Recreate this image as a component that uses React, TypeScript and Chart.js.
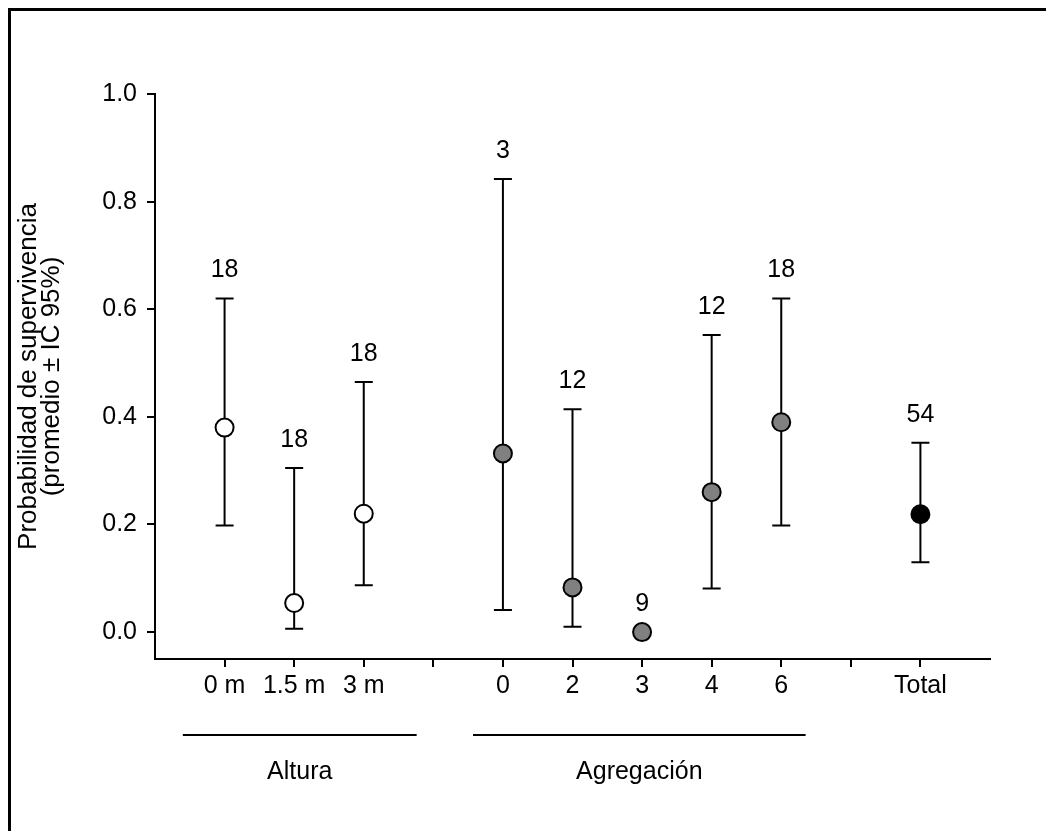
import React, { useEffect, useRef } from "react";
import { Chart, registerables } from "chart.js";

Chart.register(...registerables);

// Category slots along the x axis (empty strings are the gaps between groups)
const categories = ["0 m", "1.5 m", "3 m", "", "0", "2", "3", "4", "6", "", "Total"];

// Altura
const alturaSlots = ["0 m", "1.5 m", "3 m"];
const alturaMean = [0.38, 0.054, 0.22];
const alturaLower = [0.198, 0.006, 0.087];
const alturaUpper = [0.62, 0.305, 0.465];
const alturaN = [18, 18, 18];

// Agregación
const agregSlots = ["0", "2", "3", "4", "6"];
const agregMean = [0.332, 0.083, 0.0, 0.26, 0.39];
const agregLower = [0.041, 0.01, 0.0, 0.081, 0.198];
const agregUpper = [0.842, 0.414, 0.0, 0.552, 0.62];
const agregN = [3, 12, 9, 12, 18];

// Total
const totalSlots = ["Total"];
const totalMean = [0.219];
const totalLower = [0.13];
const totalUpper = [0.352];
const totalN = [54];

const yTicks = [0, 0.2, 0.4, 0.6, 0.8, 1.0];

const groupNames = ["Altura", "Agregación"];
const groupSpans = [
  [0.4, 3.76],
  [4.57, 9.35],
];

const FONT = "'Liberation Sans', Arial, Helvetica, sans-serif";
const FS = 25;

function mkData(xs: number[], means: number[], lower: number[], upper: number[], n: number[]) {
  return xs.map((x, i) => ({ x, y: means[i], lo: lower[i], hi: upper[i], n: n[i] }));
}

const errorPlugin = {
  id: "errorBars",
  beforeDatasetsDraw(chart: any) {
    const { ctx, scales } = chart;
    const ys = scales.y;
    const xs = scales.x;
    ctx.save();
    ctx.strokeStyle = "#000";
    ctx.lineWidth = 2;
    chart.data.datasets.forEach((ds: any) => {
      ds.data.forEach((p: any) => {
        if (p.hi === p.lo) return;
        const px = xs.getPixelForValue(p.x);
        const yh = ys.getPixelForValue(p.hi);
        const yl = ys.getPixelForValue(p.lo);
        ctx.beginPath();
        ctx.moveTo(px, yh);
        ctx.lineTo(px, yl);
        ctx.moveTo(px - 9, yh);
        ctx.lineTo(px + 9, yh);
        ctx.moveTo(px - 9, yl);
        ctx.lineTo(px + 9, yl);
        ctx.stroke();
      });
    });
    ctx.restore();
  },
  afterDatasetsDraw(chart: any) {
    const { ctx, scales } = chart;
    const ys = scales.y;
    const xs = scales.x;
    ctx.save();
    ctx.fillStyle = "#000";
    ctx.font = `${FS}px ${FONT}`;
    ctx.textAlign = "center";
    ctx.textBaseline = "middle";
    chart.data.datasets.forEach((ds: any) => {
      ds.data.forEach((p: any) => {
        const px = xs.getPixelForValue(p.x);
        const yh = ys.getPixelForValue(p.hi);
        ctx.fillText(String(p.n), px, yh - 28);
      });
    });
    ctx.restore();
  },
  afterDraw(chart: any) {
    const { ctx, scales } = chart;
    const xs = scales.x;
    ctx.save();
    ctx.strokeStyle = "#000";
    ctx.lineWidth = 2;
    ctx.fillStyle = "#000";
    ctx.font = `${FS}px ${FONT}`;
    ctx.textAlign = "center";
    ctx.textBaseline = "middle";
    groupSpans.forEach((s, i) => {
      const a = xs.getPixelForValue(s[0]);
      const b = xs.getPixelForValue(s[1]);
      ctx.beginPath();
      ctx.moveTo(a, 727);
      ctx.lineTo(b, 727);
      ctx.stroke();
      ctx.fillText(groupNames[i], (a + b) / 2, 764);
    });
    ctx.restore();
  },
};

export default function App() {
  const ref = useRef<HTMLCanvasElement>(null);
  useEffect(() => {
    const canvas = ref.current!;
    const idx = (label: string, after = 0) => categories.indexOf(label, after) + 1;
    const alturaX = alturaSlots.map((l) => idx(l));
    const agregX = agregSlots.map((l) => idx(l, 4));
    const totalX = totalSlots.map((l) => idx(l));
    const pointStyle = { pointRadius: 9, pointBorderWidth: 2, pointBorderColor: "#000", showLine: false };
    const chart = new Chart(canvas, {
      type: "scatter",
      data: {
        datasets: [
          { label: "Altura", data: mkData(alturaX, alturaMean, alturaLower, alturaUpper, alturaN), pointBackgroundColor: "#ffffff", ...pointStyle } as any,
          { label: "Agregación", data: mkData(agregX, agregMean, agregLower, agregUpper, agregN), pointBackgroundColor: "#808080", ...pointStyle } as any,
          { label: "Total", data: mkData(totalX, totalMean, totalLower, totalUpper, totalN), pointBackgroundColor: "#000000", ...pointStyle } as any,
        ],
      },
      options: {
        animation: false,
        responsive: false,
        maintainAspectRatio: false,
        layout: { padding: { top: 86, right: 64, left: 0, bottom: 0 } },
        plugins: { legend: { display: false }, tooltip: { enabled: false } },
        scales: {
          x: {
            type: "linear",
            min: 0,
            max: 12,
            afterBuildTicks: (s: any) => {
              s.ticks = categories.map((_, i) => ({ value: i + 1 }));
            },
            afterFit: (s: any) => {
              s.height = 172;
            },
            grid: { display: true, drawOnChartArea: false, drawTicks: true, tickLength: 8, color: "#000", lineWidth: 2 },
            border: { display: true, color: "#000", width: 2 },
            ticks: {
              callback: (v: any) => categories[Math.round(v) - 1] ?? "",
              color: "#000",
              font: { family: FONT, size: FS, lineHeight: 1.2 },
              padding: 4,
              autoSkip: false,
              maxRotation: 0,
            },
          },
          y: {
            min: -0.05,
            max: 1.0,
            afterBuildTicks: (s: any) => {
              s.ticks = yTicks.map((v) => ({ value: v }));
            },
            afterFit: (s: any) => {
              s.width = 147;
            },
            grid: { display: true, drawOnChartArea: false, drawTicks: true, tickLength: 8, color: "#000", lineWidth: 2 },
            border: { display: true, color: "#000", width: 2 },
            ticks: {
              callback: (v: any) => Number(v).toFixed(1),
              color: "#000",
              font: { family: FONT, size: FS },
              padding: 10,
            },
            title: {
              display: true,
              text: ["Probabilidad de supervivencia", "(promedio ± IC 95%)"],
              color: "#000",
              font: { family: FONT, size: 26, lineHeight: 0.9 },
              padding: { top: 9, bottom: 0 },
            },
          },
        },
      },
      plugins: [errorPlugin],
    });
    return () => chart.destroy();
  }, []);

  return (
    <div style={{ position: "relative", width: 1046, height: 823 }}>
      <div
        style={{
          position: "absolute",
          left: 0,
          top: 0,
          width: 1046,
          height: 823,
          boxSizing: "border-box",
          borderTop: "3px solid #000",
          borderLeft: "3px solid #000",
        }}
      />
      <canvas ref={ref} width={1046} height={823} style={{ position: "absolute", left: 0, top: 0, display: "block" }} />
    </div>
  );
}
